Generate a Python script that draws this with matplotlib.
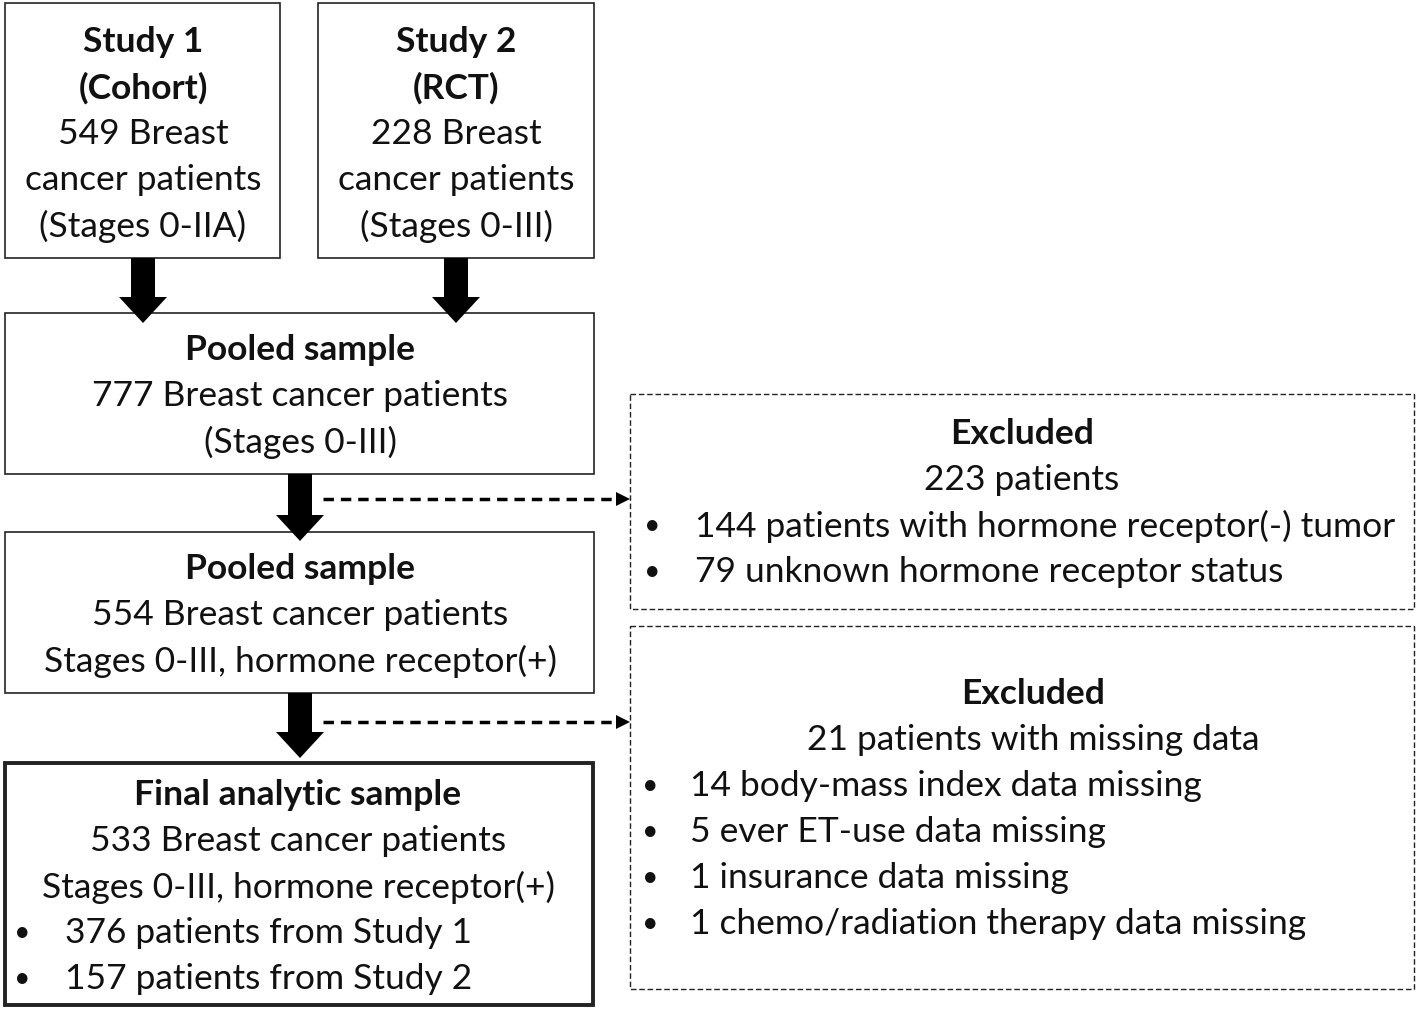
import matplotlib.pyplot as plt
from matplotlib.patches import Rectangle, FancyArrow

plt.rcParams['font.family'] = ['Lato', 'DejaVu Sans']

# flowchart content
study1_lines = ["Study 1", "(Cohort)", "549 Breast", "cancer patients", "(Stages 0-IIA)"]
study2_lines = ["Study 2", "(RCT)", "228 Breast", "cancer patients", "(Stages 0-III)"]
pooled1_lines = ["Pooled sample", "777 Breast cancer patients", "(Stages 0-III)"]
pooled2_lines = ["Pooled sample", "554 Breast cancer patients", "Stages 0-III, hormone receptor(+)"]
final_lines = ["Final analytic sample", "533 Breast cancer patients", "Stages 0-III, hormone receptor(+)"]
final_bullets = ["376 patients from Study 1", "157 patients from Study 2"]
excl1_lines = ["Excluded", "223 patients"]
excl1_bullets = ["144 patients with hormone receptor(-) tumor", "79 unknown hormone receptor status"]
excl2_lines = ["Excluded", "21 patients with missing data"]
excl2_bullets = ["14 body-mass index data missing", "5 ever ET-use data missing",
                 "1 insurance data missing", "1 chemo/radiation therapy data missing"]

W, H = 1416, 1010
fig = plt.figure(figsize=(W / 100, H / 100), dpi=100)
ax = fig.add_axes([0, 0, 1, 1])
ax.set_xlim(0, W)
ax.set_ylim(H, 0)
ax.axis("off")

FS = 25.5
LH = 46
DY = 2  # small nudge so text sits like the original


def box(x0, y0, x1, y1, lw=1.2, ls="-"):
    ax.add_patch(Rectangle((x0, y0), x1 - x0, y1 - y0, fill=False,
                           edgecolor="#222222", lw=lw, ls=ls))


def centered(lines, cx, y0, bold_n):
    for i, t in enumerate(lines):
        ax.text(cx, y0 + DY + i * LH, t, ha="center", va="center", fontsize=FS,
                fontweight="bold" if i < bold_n else "normal", color="#111111")


def bullets(items, bx, tx, y0):
    for i, t in enumerate(items):
        ax.text(bx, y0 + DY + i * LH, "\u2022", ha="center", va="center", fontsize=FS * 0.8, color="#111111")
        ax.text(tx, y0 + DY + i * LH, t, ha="left", va="center", fontsize=FS, color="#111111")


def block_arrow(x, y0, y1):
    ax.add_patch(FancyArrow(x, y0, 0, y1 - y0, width=24, head_width=48,
                            head_length=26, length_includes_head=True,
                            color="black", lw=0))


def dash_arrow(x0, x1, y):
    ax.plot([x0, x1 - 12], [y, y], color="black", lw=2.5, ls=(0, (3, 2)))
    ax.add_patch(FancyArrow(x1 - 14, y, 14, 0, width=0.1, head_width=14,
                            head_length=14, length_includes_head=True,
                            color="black", lw=0))


# boxes
box(5, 3, 280, 258)
box(318, 3, 594, 258)
box(5, 313, 594, 474)
box(5, 532, 594, 693)
box(5, 763, 593, 1005, lw=2.8)
box(630, 394, 1414, 609, lw=1.0, ls=(0, (4, 2)))
box(630, 626, 1414, 989, lw=1.0, ls=(0, (4, 2)))

# arrows
block_arrow(143, 258, 323)
block_arrow(456, 258, 323)
block_arrow(300, 474, 541)
block_arrow(300, 693, 758)
dash_arrow(323, 630, 499)
dash_arrow(323, 630, 722)

# text
centered(study1_lines, 143, 40, 2)
centered(study2_lines, 456, 40, 2)
centered(pooled1_lines, 300, 348, 1)
centered(pooled2_lines, 300, 567, 1)
centered(final_lines, 298, 793, 1)
bullets(final_bullets, 22, 65, 931)
centered(excl1_lines, 1022, 432, 1)
bullets(excl1_bullets, 652, 695, 524)
centered(excl2_lines, 1033, 692, 1)
bullets(excl2_bullets, 650, 690, 784)

fig.savefig("out.png", dpi=100, facecolor="white")
